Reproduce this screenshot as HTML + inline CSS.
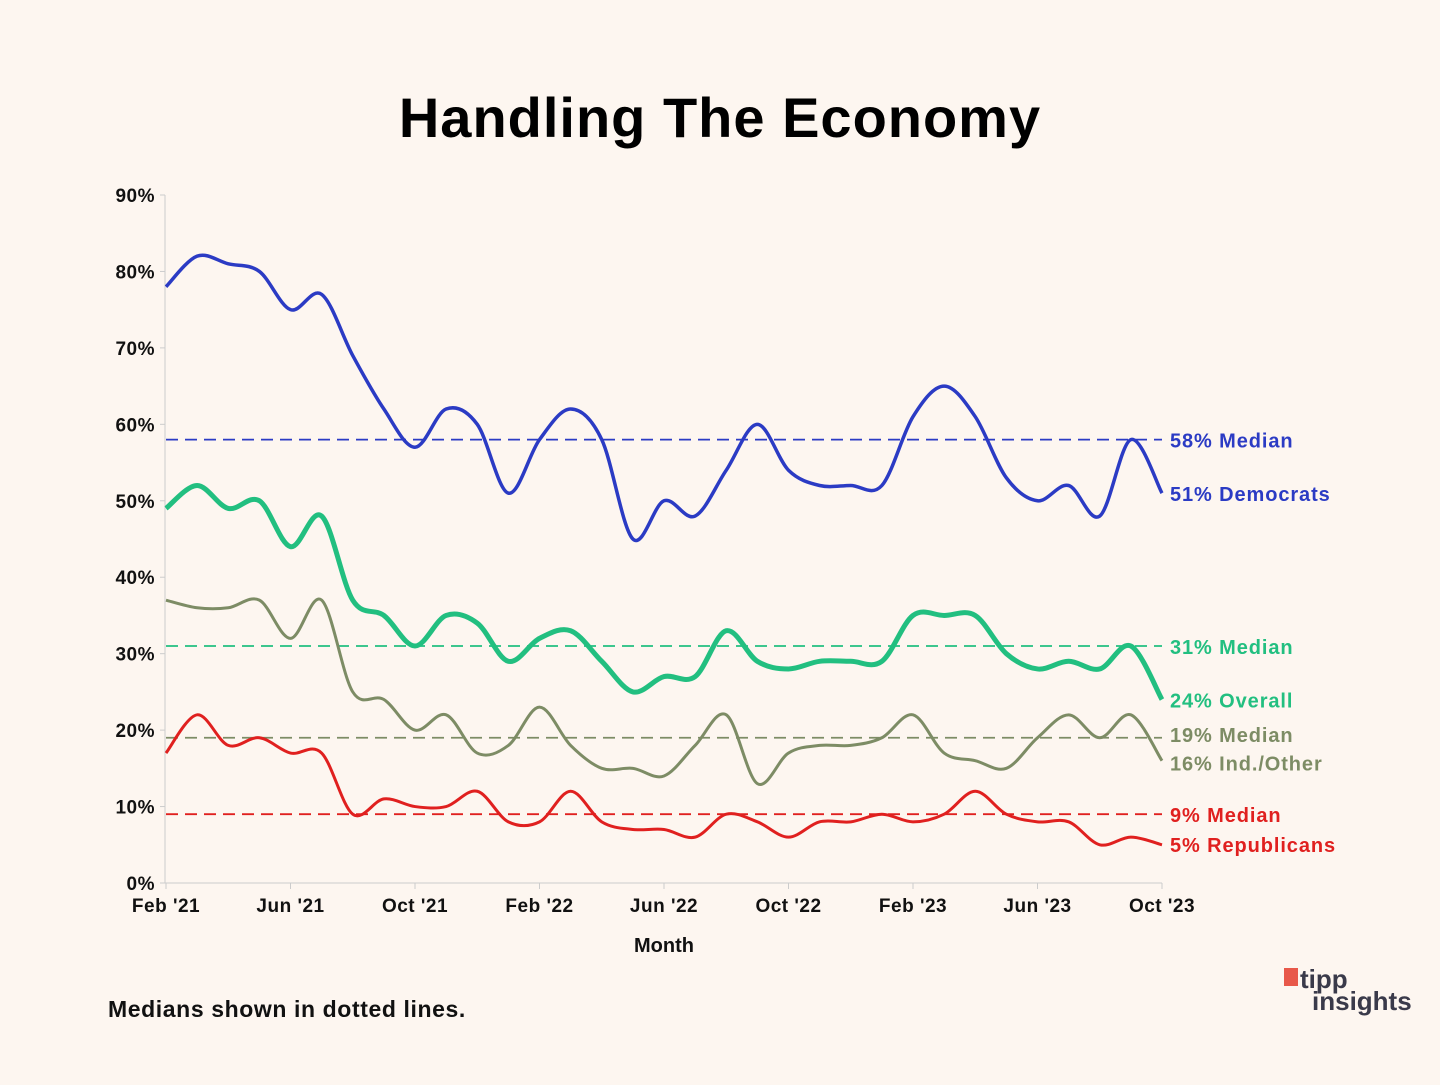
<!DOCTYPE html>
<html><head><meta charset="utf-8"><style>
body{margin:0;background:#fdf6f0;}
svg text{font-family:"Liberation Sans",sans-serif;}
</style></head><body>
<svg id="chart" width="1440" height="1080" xmlns="http://www.w3.org/2000/svg">
<rect width="1440" height="1080" fill="#fdf6f0"/>
<text x="720" y="137" text-anchor="middle" font-size="56" font-weight="bold" fill="#000" letter-spacing="1">Handling The Economy</text>
<g id="axes"></g>
<g id="series"></g>
<text x="664" y="952" text-anchor="middle" font-size="20" font-weight="bold" fill="#111">Month</text>
<text x="108" y="1017" font-size="23" font-weight="bold" fill="#111" letter-spacing="0.6">Medians shown in dotted lines.</text>
<g>
<rect x="1284" y="968" width="14" height="18" fill="#e8584a"/>
<text x="1300" y="988" font-size="26" font-weight="bold" fill="#3a3a4a">tipp</text>
<text x="1312" y="1010" font-size="26" font-weight="bold" fill="#3a3a4a">insights</text>
</g>
</svg>
<script>
const months=["Feb '21","Jun '21","Oct '21","Feb '22","Jun '22","Oct '22","Feb '23","Jun '23","Oct '23"];
const yTicks=[0,10,20,30,40,50,60,70,80,90];
const democrats=[78,82,81,80,75,77,69,62,57,62,60,51,58,62,58,45,50,48,54,60,54,52,52,52,61,65,61,53,50,52,48,58,51];
const overall=[49,52,49,50,44,48,37,35,31,35,34,29,32,33,29,25,27,27,33,29,28,29,29,29,35,35,35,30,28,29,28,31,24];
const independents=[37,36,36,37,32,37,25,24,20,22,17,18,23,18,15,15,14,18,22,13,17,18,18,19,22,17,16,15,19,22,19,22,16];
const republicans=[17,22,18,19,17,17,9,11,10,10,12,8,8,12,8,7,7,6,9,8,6,8,8,9,8,9,12,9,8,8,5,6,5];
const medians=[58,31,19,9];
const NS="http://www.w3.org/2000/svg";
const X0=166,X1=1162,Y0=883,Y90=195;
const xs=i=>X0+(X1-X0)*i/32;
const ys=v=>Y0-(Y0-Y90)*v/90;
function mk(tag,attrs,parent,txt){const e=document.createElementNS(NS,tag);for(const k in attrs)e.setAttribute(k,attrs[k]);if(txt!==undefined)e.textContent=txt;parent.appendChild(e);return e;}
const axes=document.getElementById('axes'),ser=document.getElementById('series');
const ya=mk('line',{x1:165,x2:165,y1:195,y2:883,stroke:'#ccc','stroke-width':1},axes);


const xa=mk('line',{x1:165,x2:1162,y1:883,y2:883,stroke:'#ccc','stroke-width':1},axes);


yTicks.forEach(v=>{
 const t=mk('text',{x:155,y:ys(v)+7,'text-anchor':'end','font-size':19,'font-weight':'bold',fill:'#111','letter-spacing':0.5},axes,v+'%');
 
 
 mk('line',{x1:160,x2:165,y1:ys(v),y2:ys(v),stroke:'#ccc'},axes);
});
months.forEach((m,k)=>{
 const t=mk('text',{x:xs(k*4),y:912,'text-anchor':'middle','font-size':19,'font-weight':'bold',fill:'#111','letter-spacing':0.5},axes,m);
 
 
 mk('line',{x1:xs(k*4),x2:xs(k*4),y1:883,y2:889,stroke:'#ccc'},axes);
});
function pathD(vals){
 const p=vals.map((v,i)=>[xs(i),ys(v)]);let d='M'+p[0][0]+','+p[0][1];
 for(let i=0;i<p.length-1;i++){
  const a=p[Math.max(0,i-1)],b=p[i],c=p[i+1],e=p[Math.min(p.length-1,i+2)];
  const c1=[b[0]+(c[0]-a[0])/6,b[1]+(c[1]-a[1])/6],c2=[c[0]-(e[0]-b[0])/6,c[1]-(e[1]-b[1])/6];
  d+=` C${c1[0]},${c1[1]} ${c2[0]},${c2[1]} ${c[0]},${c[1]}`;
 }
 return d;
}
const series=[
 {vals:democrats,color:'#2b3bc4',w:3.5,name:'democrats',label:'Democrats',dy:8},
 {vals:overall,color:'#22bf80',w:5,name:'overall',label:'Overall',dy:8},
 {vals:independents,color:'#7d8c65',w:3,name:'independents',label:'Ind./Other',dy:10},
 {vals:republicans,color:'#e0201f',w:3,name:'republicans',label:'Republicans',dy:7}];
series.forEach((s,k)=>{
 const m=medians[k];
 const ml=mk('line',{x1:166,x2:1162,y1:ys(m),y2:ys(m),stroke:s.color,'stroke-width':1.8,'stroke-dasharray':'12,7'},ser);
 
 
 const mt=mk('text',{x:1170,y:ys(m)+(k==2?4:8),'font-size':20,'font-weight':'bold',fill:s.color,'letter-spacing':0.9},ser,m+'% Median');
 
 
});
series.forEach(s=>{
 const p=mk('path',{d:pathD(s.vals),fill:'none',stroke:s.color,'stroke-width':s.w,'stroke-linejoin':'round'},ser);
 
 
 const last=s.vals[s.vals.length-1];
 const t=mk('text',{x:1170,y:ys(last)+s.dy,'font-size':20,'font-weight':'bold',fill:s.color,'letter-spacing':0.9},ser,last+'% '+s.label);
 
 
});
</script>
</body></html>
